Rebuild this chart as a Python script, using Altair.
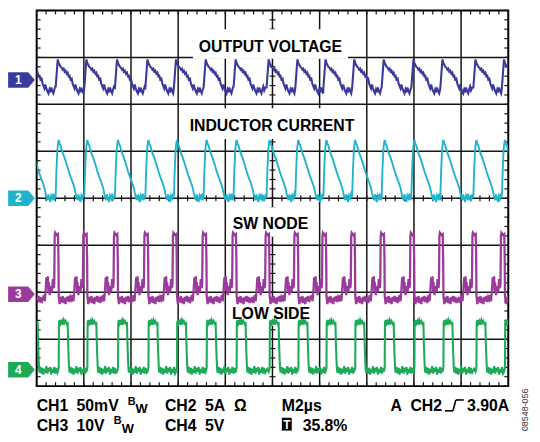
import altair as alt
import pandas as pd

W, H = 477, 380
FONT = "Liberation Sans"

peak_times = [-0.34, 0.935, 2.15, 3.45, 4.74, 5.95, 7.21, 8.48, 9.88, 11.10,
              12.29, 13.51, 14.76, 16.02, 17.25, 18.65, 19.86]

# one switching cycle of each channel (time from CH2 peak, µs)
ch1_dt = [-0.13, -0.06, -0.04, 0.00, 0.04, 0.08, 0.13, 0.17, 0.21, 0.25, 0.29, 0.34,
          0.38, 0.42, 0.46, 0.50, 0.55, 0.59, 0.63, 0.67, 0.71, 0.75, 0.80, 0.84,
          0.88, 0.92, 0.96, 1.01, 1.05, 1.09, 1.13, 1.17, 1.22, 1.30]
ch1_mv = [-7.9, 16.3, 22.0, 18.4, 16.0, 14.2, 13.1, 11.0, 12.1, 8.9, 10.0, 6.8,
          7.9, 4.2, 4.7, 0.5, 1.6, -3.7, -6.3, -8.9, -4.7, -8.9, -12.1, -14.2,
          -10.0, -13.1, -7.9, -12.1, -14.2, -10.0, -6.8, -11.0, -7.9, -12.1]

ch2_dt = [-0.13, -0.10, -0.06, -0.02, 0.00, 0.04, 0.08, 0.17, 0.25, 0.34, 0.42, 0.50,
          0.59, 0.67, 0.71, 0.75, 0.80, 0.84, 0.88, 0.92, 0.96, 1.01, 1.05, 1.09,
          1.13, 1.17, 1.22, 1.30]
ch2_a = [0.2, 2.7, 5.1, 6.0, 6.2, 5.8, 5.6, 4.8, 4.3, 3.6, 2.9, 2.3,
         1.7, 1.1, 0.6, 0.2, -0.2, 0.4, -0.1, -0.4, 0.3, 0.0, 0.5, -0.2,
         0.2, -0.3, 0.3, -0.1]

ch3_dt = [-0.67, -0.63, -0.59, -0.55, -0.52, -0.50, -0.46, -0.44, -0.42, -0.38, -0.34,
          -0.29, -0.25, -0.21, -0.19, -0.17, -0.15, -0.08, -0.03, -0.01, 0.00, 0.04,
          0.08, 0.13, 0.17, 0.21, 0.25, 0.29, 0.34, 0.38, 0.42, 0.46, 0.50, 0.55,
          0.59, 0.63, 0.67, 0.71]
ch3_v = [-1.1, -0.2, -1.5, 1.1, 3.6, 2.1, 3.8, 0.6, 2.5, -0.2, 1.7,
         0.4, 3.2, 1.3, 2.3, 12.4, 13.1, 12.6, 12.8, 7.4, -0.4, -2.1,
         -0.6, -1.7, -0.4, -1.9, -0.8, -2.1, -0.6, -1.5, -0.4, -1.7, -0.6, -1.9,
         -0.8, -1.7, -0.6, -1.9]

ch4_dt = [-0.04, 0.00, 0.01, 0.04, 0.08, 0.13, 0.17, 0.21, 0.25, 0.29, 0.34, 0.38,
          0.40, 0.42, 0.44, 0.46, 0.50, 0.55, 0.59, 0.63, 0.67, 0.71, 0.75, 0.80,
          0.84, 0.88, 0.92, 0.96, 1.01, 1.05, 1.09, 1.13, 1.17, 1.22, 1.30]
ch4_v = [-0.2, 0.2, 5.0, 5.3, 4.9, 5.2, 4.8, 5.3, 5.0, 5.2, 4.9, 5.1,
         2.8, 1.4, 0.2, -0.3, 0.3, -0.4, 0.2, -0.5, 0.1, -0.3, 0.4, -0.4,
         0.2, -0.2, 0.3, -0.5, 0.1, -0.3, 0.3, -0.4, 0.2, -0.3, 0.1]

channels = ["1", "2", "3", "4"]
volts_per_div = [50.0, 5.0, 10.0, 5.0]
offsets_div = [2.516, 0.0, -2.042, -3.653]
colors = ["#3a3a9c", "#1fb3cc", "#9a3a9a", "#1faa58"]
widths = [2.1, 1.9, 2.3, 2.1]
templates = [(ch1_dt, ch1_mv), (ch2_dt, ch2_a), (ch3_dt, ch3_v), (ch4_dt, ch4_v)]

rows = []
for ch, vpd, off, (dts, vals) in zip(channels, volts_per_div, offsets_div, templates):
    d0 = dts[0]
    idx = 0
    for i, T in enumerate(peak_times):
        limit = peak_times[i + 1] + d0 - 1e-6 if i + 1 < len(peak_times) else 1e9
        for dt, v in zip(dts, vals):
            t = T + dt
            if t < limit:
                rows.append({"t": t, "div": off + v / vpd, "ch": ch, "idx": idx})
                idx += 1
traces = pd.DataFrame(rows)


def X():
    return alt.X("t:Q", scale=alt.Scale(domain=[0, 20], nice=False, zero=False), axis=None)


def Y():
    return alt.Y("div:Q", scale=alt.Scale(domain=[-4, 4], nice=False, zero=False), axis=None)


color_enc = alt.Color("ch:N", scale=alt.Scale(domain=channels, range=colors), legend=None)

grid_t = [2, 4, 6, 8, 10, 12, 14, 16, 18]
grid_div = [-3, -2, -1, 0, 1, 2, 3]
tick_t = [round(0.4 * k, 2) for k in range(51)]
tick_div = [round(-4 + 0.2 * k, 2) for k in range(41)]

GRID = "#151515"
layers = []
layers.append(alt.Chart(pd.DataFrame({"t": grid_t})).mark_rule(color=GRID, strokeWidth=1.5).encode(x=X()))
layers.append(alt.Chart(pd.DataFrame({"div": grid_div})).mark_rule(color=GRID, strokeWidth=1.5).encode(y=Y()))

dft = pd.DataFrame({"t": tick_t})
dfd = pd.DataFrame({"div": tick_div})
for y1, y2 in [(0, 4), (H - 4, H), (H / 2 - 3, H / 2 + 3)]:
    layers.append(alt.Chart(dft).mark_rule(color=GRID, strokeWidth=1.2).encode(
        x=X(), y=alt.value(y1), y2=alt.value(y2)))
for x1, x2 in [(0, 4), (W - 4, W), (W / 2 - 3, W / 2 + 3)]:
    layers.append(alt.Chart(dfd).mark_rule(color=GRID, strokeWidth=1.2).encode(
        y=Y(), x=alt.value(x1), x2=alt.value(x2)))

one = pd.DataFrame({"a": [0]})
# white backgrounds behind the in-screen labels
for bx1, bx2, by1, by2 in [(158, 315, 19, 49), (153, 323, 99, 130), (194, 279, 199, 229), (193, 281, 292, 319)]:
    layers.append(alt.Chart(one).mark_rect(color="white").encode(
        x=alt.value(bx1), x2=alt.value(bx2), y=alt.value(by1), y2=alt.value(by2)))

for ch, w in zip(channels, widths):
    layers.append(alt.Chart(traces[traces["ch"] == ch]).mark_line(clip=True, strokeWidth=w).encode(
        x=X(), y=Y(), color=color_enc, order="idx:Q"))

# channel markers on the left edge
markers = pd.DataFrame({"ch": channels, "div": offsets_div})
layers.append(alt.Chart(markers).mark_point(
    shape="M-1,-0.58L0.5,-0.58L1,0L0.5,0.58L-1,0.58Z", filled=True, size=729, opacity=1,
    strokeWidth=0).encode(x=alt.value(-15.35), y=Y(), color=color_enc))
layers.append(alt.Chart(markers).mark_text(
    font=FONT, fontWeight="bold", fontSize=12, color="white", baseline="middle", align="center").encode(
    x=alt.value(-18.5), y=Y(), text="ch:N"))


def txt(s, x, y, size=16, align="left", color="black", angle=0, weight="bold"):
    kw = dict(font=FONT, fontWeight=weight, fontSize=size, color=color, align=align,
              baseline="alphabetic")
    if angle:
        kw["angle"] = angle
    return alt.Chart(one).mark_text(**kw).encode(x=alt.value(x), y=alt.value(y), text=alt.value(s))


layers += [
    txt("OUTPUT VOLTAGE", 236.5, 42, align="center"),
    txt("INDUCTOR CURRENT", 238, 122, align="center"),
    txt("SW NODE", 236.5, 221.5, align="center"),
    txt("LOW SIDE", 237, 312, align="center"),
    # bottom readout, row 1
    txt("CH1", 0, 405), txt("50mV", 40.3, 405), txt("B", 92, 398.7, size=11), txt("W", 100, 407, size=13),
    txt("CH2", 129.7, 405), txt("5A", 170.3, 405), txt("Ω", 199.7, 405),
    txt("M2µs", 248, 405), txt("A", 358, 405), txt("CH2", 378, 405), txt("3.90A", 478, 405, align="right"),
    # row 2
    txt("CH3", 0, 425), txt("10V", 40.3, 425), txt("B", 78, 418.7, size=11), txt("W", 86, 427, size=13),
    txt("CH4", 129.7, 425), txt("5V", 170.3, 425), txt("35.8%", 269, 425),
    txt("08548-056", 497, 404, size=9, align="center", color="#333333", angle=270, weight="normal"),
]

# trigger slope glyph and the T box
for x1, y1, x2, y2 in [(413, 405, 421, 405), (421, 405, 424, 394), (424, 394, 432, 394)]:
    layers.append(alt.Chart(one).mark_rule(color="black", strokeWidth=1.6).encode(
        x=alt.value(x1), y=alt.value(y1), x2=alt.value(x2), y2=alt.value(y2)))
layers.append(alt.Chart(one).mark_rect(color="black").encode(
    x=alt.value(248), x2=alt.value(258), y=alt.value(412), y2=alt.value(425)))
layers.append(txt("T", 253, 423, size=12, align="center", color="white"))

chart = alt.layer(*layers).properties(
    width=W, height=H,
    autosize=alt.AutoSizeParams(type="none"),
    padding={"left": 29, "top": 0, "right": 24, "bottom": 48},
).configure(background="white").configure_view(stroke="black", strokeWidth=2)

chart.save("out.html", embed_options={"renderer": "svg", "actions": False})
